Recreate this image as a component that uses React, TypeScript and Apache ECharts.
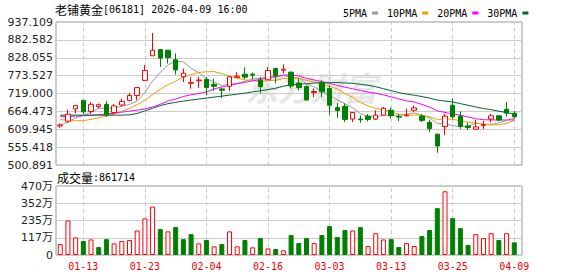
import React, { useEffect, useRef } from 'react';
import * as echarts from 'echarts';

const dates = ['01-08','01-09','01-12','01-13','01-14','01-15','01-16','01-19','01-20','01-21','01-22','01-23','01-26','01-27','01-28','01-29','01-30','02-02','02-03','02-04','02-05','02-06','02-09','02-10','02-11','02-12','02-13','02-16','02-20','02-23','02-24','02-25','02-26','02-27','03-02','03-03','03-04','03-05','03-06','03-09','03-10','03-11','03-12','03-13','03-16','03-17','03-18','03-19','03-20','03-23','03-24','03-25','03-26','03-27','03-30','03-31','04-01','04-02','04-08','04-09'];

const opens = [620,634.5,672,698,664,679,685.5,661,684,698,713,759,834,853,851,822,770,750,758,762,747,733,741,768,778,778,760,761,795,790,784,751,740,722,751,734,676,680,641,641,650,641,653,668,649,651,668,650,631,595,618,683,650,620,610,622,641,651,671,659];
const closes = [623,656,682,663,686,685,654,681,695,713,737,789,851,827,828.5,791,781,752,760,737,741,729,770,772,769,775,740,789,773,793,742,737,699,725,724,683,667,640,661,639,640,653,674,651,647,653,675,637,612,559,650,648,619,615,617,624,651,638,659,648];
const lows = [615,629.5,659,657,657,673,648,655,680,694.6,698.6,758.6,834,800,810,777,754,734,736,714,727,705,727,767,763,762,719,761,750,781,734,729,698,708,708,653,645,632,632,630,634,638,652,642,635,648,663,632,602,538,592,641,611,608,609,611,631,634,648,642];
const highs = [628,670,683,698.6,692.5,688.5,695.6,687,702.6,720,737.5,806,903.6,853.5,852,841,795,769,770,770,764,737,772,784,799,783,770,800,798,808,786,765,744,734,760,744,690,688,661.5,652,656,668,678,676,656,673,682,656,639,596,656,704,664,630,638,635,656,651.5,693,666];

const ma5 = [622.5,632,645,652,661.8,674.2,673.9,673.6,680.2,685.6,696,723,757,783.4,806.5,817.3,815.7,795.9,782.5,764.2,754.2,743.8,747.4,749.8,756.2,763,765.2,769,769.2,774,767.4,766.8,748.8,739.2,725.4,713.6,699.6,687.8,675,658,649.4,646.6,653.4,651.4,653,655.6,660,652.6,644.8,627.2,626.6,621.2,617.6,618.2,629.6,624.6,625.2,629,637.6,644];
const ma10 = [640,637,636,636,640,645,650,657,665,673.6,685.1,698.4,715.3,731.7,746.1,756.7,769.4,776.5,783,785.4,785.8,779.8,771.7,766.2,760.2,758.6,754.5,758.2,759.5,765.1,765.2,766,758.9,754.2,749.7,740.5,733.2,718.3,707.1,691.7,681.5,673.1,670.6,663.2,655.5,652.5,653.3,653,648.1,640.1,641.1,640.6,635.1,631.6,628.5,625.6,623.2,623.3,628,636.9];
const ma20 = [649,649,650,651,652,654,656,659,662,665,668,672,678,686,696,702,710,715,719,724,733,739,743.5,748.9,753.1,757.6,761.9,767.3,771.2,775.2,775.5,772.9,765.3,760.2,755,749.6,743.9,738.3,733.3,728.4,723.4,719.6,714.8,708.7,702.6,696.5,693.3,685.7,677.6,665.9,661.3,656.9,652.9,647.4,642,639.1,638.3,638.2,638.1,638.5];
const ma30 = [653,653,653,653,653,653,653,653,653,654,658,666,674,682,688,692,696,699,702,705,708,711,714,717,720,724,727,731,735,741.4,745.4,748.1,748.6,750.7,752,751.9,752.4,751,749.9,747.4,744.2,739.6,733.7,727.9,721.8,717.2,713.7,709.8,704.9,699,695.9,693.2,688.2,683,677.9,672.9,669.9,664.9,661.1,656.2];

// volume in 万 shares
const volumes = [74.6,235,120,95,106,54,108,79,95,102,167,249,330,176,161,190,108,142,79,102,59,75,161,59,102,52,115,45,41,32,136,81,115,81,136,197,122,170,167,190,61,149,106,108,54,81,61,129,170,319,434,251,183,68,142,115,149,102,149,86.17];

const priceTicks = ['500.891','555.418','609.945','664.473','719.000','773.527','828.055','882.582','937.109'];
const volTicks = ['0','117万','235万','352万','470万'];
const priceMin = 500.891;
const priceMax = 937.109;
const volMax = 470;

const maNames = ['5PMA', '10PMA', '20PMA', '30PMA'];
const maData = [ma5, ma10, ma20, ma30];
const maColors = ['#999999', '#f0a000', '#ff00ff', '#006633'];

const UP = '#ff0000';
const DOWN = '#008000';
const labelFont = '"DejaVu Sans", "Noto Sans CJK SC", sans-serif';
const monoFont = '"DejaVu Sans Mono", monospace';
const cjkFont = '"Noto Sans CJK SC", sans-serif';

export default function App() {
  const ref = useRef<HTMLDivElement>(null);
  useEffect(() => {
    const chart = echarts.init(ref.current!, null, { renderer: 'svg' });
    const candleData = dates.map((_, i) => [opens[i], closes[i], lows[i], highs[i]]);
    const volData = volumes.map((v, i) => {
      const up = i === 0 ? closes[i] >= opens[i] : closes[i] >= closes[i - 1];
      return {
        value: v,
        itemStyle: up
          ? { color: '#ffffff', borderColor: UP, borderWidth: 1 }
          : { color: DOWN, borderColor: DOWN, borderWidth: 1 },
      };
    });
    const tickDates = dates.filter((_, i) => i % 8 === 3);
    const vLines = {
      silent: true,
      symbol: ['none', 'none'],
      z: 1,
      label: { show: false },
      lineStyle: { color: '#cccccc', type: [4, 3], width: 1 },
      emphasis: { disabled: true },
      data: tickDates.map((d) => ({ xAxis: d })),
    };
    const frameLeft = 56;
    const frameWidth = 466;
    const dataLeft = 56.4;
    const dataWidth = 461.7;
    const option: any = {
      animation: false,
      backgroundColor: '#ffffff',
      legend: {
        data: maNames,
        left: 338,
        top: 3,
        align: 'right',
        icon: 'rect',
        itemWidth: 6,
        itemHeight: 3,
        itemGap: 9,
        selectedMode: false,
        textStyle: { fontFamily: monoFont, fontSize: 10, color: '#000' },
      },
      grid: [
        { left: frameLeft, top: 22, width: frameWidth, height: 143, show: true, borderColor: '#999', borderWidth: 1 },
        { left: dataLeft, top: 22, width: dataWidth, height: 143 },
        { left: frameLeft, top: 186, width: frameWidth, height: 69, show: true, borderColor: '#999', borderWidth: 1 },
        { left: dataLeft, top: 186, width: dataWidth, height: 69 },
      ],
      xAxis: [
        { type: 'value', gridIndex: 0, min: 0, max: 1, show: false },
        { type: 'category', gridIndex: 1, data: dates, boundaryGap: true, show: false },
        { type: 'value', gridIndex: 2, min: 0, max: 1, show: false },
        {
          type: 'category', gridIndex: 3, data: dates, boundaryGap: true,
          axisLine: { show: false }, axisTick: { show: false },
          axisLabel: {
            interval: (i: number) => i % 8 === 3,
            color: UP, fontFamily: monoFont, fontSize: 10, margin: 6,
          },
        },
      ],
      yAxis: [
        {
          type: 'value', gridIndex: 0, min: 0, max: 8, interval: 1,
          axisLine: { show: false }, axisTick: { show: false },
          splitLine: { lineStyle: { color: '#cccccc', width: 1 } },
          axisLabel: { formatter: (v: number) => priceTicks[v], margin: 3, color: '#222', fontFamily: labelFont, fontSize: 11 },
        },
        { type: 'value', gridIndex: 1, min: priceMin, max: priceMax, show: false },
        {
          type: 'value', gridIndex: 2, min: 0, max: 4, interval: 1,
          axisLine: { show: false }, axisTick: { show: false },
          splitLine: { lineStyle: { color: '#cccccc', width: 1 } },
          axisLabel: { formatter: (v: number) => volTicks[v], margin: 3, color: '#222', fontFamily: labelFont, fontSize: 11 },
        },
        { type: 'value', gridIndex: 3, min: 0, max: volMax, show: false },
      ],
      graphic: [
        {
          type: 'text', left: 245, top: 70, z: -10, silent: true,
          style: { text: '东方财富', fill: '#e6e6e6', font: 'italic bold 33px "Noto Sans CJK SC", sans-serif' },
        },
        {
          type: 'text', x: 55, y: 9, silent: true,
          style: {
            text: '{a|老铺黄金}{b|[06181] 2026-04-09 16:00}',
            verticalAlign: 'middle',
            rich: {
              a: { fontFamily: cjkFont, fontSize: 12, fill: '#000' },
              b: { fontFamily: monoFont, fontSize: 10, fill: '#000' },
            },
          },
        },
        {
          type: 'text', x: 57, y: 177, silent: true,
          style: {
            text: '{a|成交量}{b|:861714}',
            verticalAlign: 'middle',
            rich: {
              a: { fontFamily: cjkFont, fontSize: 12, fill: '#000' },
              b: { fontFamily: monoFont, fontSize: 10, fill: '#000' },
            },
          },
        },
      ],
      series: [
        {
          type: 'candlestick', name: 'K', xAxisIndex: 1, yAxisIndex: 1, z: 3,
          data: candleData, barWidth: 5,
          itemStyle: { color: '#ffffff', color0: DOWN, borderColor: UP, borderColor0: DOWN, borderWidth: 1 },
          markLine: vLines,
        },
        ...maNames.map((n, k) => ({
          type: 'line', name: n, xAxisIndex: 1, yAxisIndex: 1, z: 2,
          data: maData[k], showSymbol: false, symbol: 'none', smooth: false,
          color: maColors[k],
          lineStyle: { color: maColors[k], width: 1 },
        })),
        {
          type: 'bar', name: 'VOL', xAxisIndex: 3, yAxisIndex: 3, z: 3,
          data: volData, barWidth: 5,
          markLine: vLines,
        },
      ],
    };
    chart.setOption(option);
    return () => chart.dispose();
  }, []);
  return <div ref={ref} style={{ position: 'absolute', left: 0, top: 0, width: 578, height: 276, background: '#fff' }} />;
}
